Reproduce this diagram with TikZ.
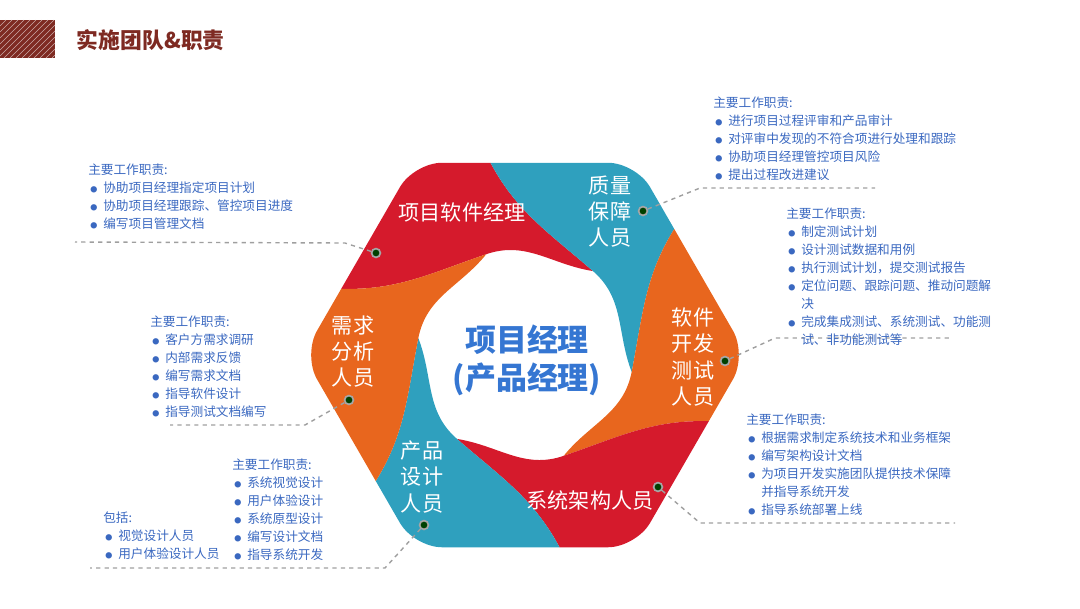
\documentclass[tikz,border=0pt]{standalone}
\usepackage{fontspec}
\setmainfont{Noto Sans CJK SC}
\usetikzlibrary{calc,positioning}
\definecolor{bred}{HTML}{D51A2C}
\definecolor{bteal}{HTML}{2FA0BE}
\definecolor{borange}{HTML}{E8661E}
\definecolor{dutyblue}{HTML}{3A68C0}
\definecolor{corecol}{HTML}{3576D2}
\definecolor{titlecol}{HTML}{7E2A22}
\newcommand{\itm}{\makebox[0.375cm][l]{\hspace{0.05cm}{\tiny●}}}
\newcommand{\cnt}{\hspace*{0.375cm}}
\tikzset{
  duty/.style={anchor=north west, align=left, inner sep=0pt, text=dutyblue,
    font=\fontsize{9}{12.8}\selectfont},
  role/.style={text=white, align=center, font=\fontsize{15}{18.5}\selectfont},
  pin/.style={circle, draw=gray!70, line width=1.2pt, fill=black!75!green, minimum size=0.22cm, inner sep=0pt},
  lead/.style={draw=gray!75, dashed, line width=1pt}
}
\begin{document}
\begin{tikzpicture}[x=0.025cm,y=-0.025cm]
\useasboundingbox (0,0) rectangle (1080,608);
% title bar
\fill[titlecol] (0,20) rectangle (55,58);
\foreach \k in {0,6,...,90}
  \draw[white!60!titlecol, line width=0.3pt] ({max(0,\k-38)},{20+min(\k,38)}) -- ({min(55,\k)},{20+max(0,\k-55)});
\node[text=titlecol, font=\fontsize{15.5}{18}\bfseries, anchor=west] (title) at (72,40) {实施团队\&职责};
% pinwheel
\begin{scope}[shift={(525,355)}]
\begin{scope}[y=0.025cm]
  \clip[rounded corners=0.7cm] (0:222) -- (60:222) -- (120:222) -- (180:222) -- (240:222) -- (300:222) -- cycle;
  \foreach \a/\col in {51/bred, -9/bteal, -69/borange, -129/bred, 171/bteal, 111/borange}
    \fill[\col] (\a:108) to[out={\a+88},in={\a-115}] ({\a+50}:205) -- ({\a+55}:300)
      -- ({\a+115}:300) -- ({\a+110}:205) to[out={\a-55},in={\a+148}] ({\a+60}:108)
      to[out={\a-32},in={\a+120}] (\a:108) -- cycle;
\end{scope}
\end{scope}
% role labels
\node[role] (pm) at (462,212) {项目软件经理};
\node[role] (qa) at (610,212) {质量\\保障\\人员};
\node[role] (test) at (693,357) {软件\\开发\\测试\\人员};
\node[role] (arch) at (590,500) {系统架构人员};
\node[role] (design) at (422,477) {产品\\设计\\人员};
\node[role] (req) at (353,352) {需求\\分析\\人员};
\node[text=corecol, align=center, font=\fontsize{22}{27}\bfseries] (core) at (527,360) {项目经理\\(产品经理)};
% pins
\node[pin] (ppm) at (376,253) {};
\node[pin] (pqa) at (643,211) {};
\node[pin] (ptest) at (725,361) {};
\node[pin] (parch) at (658,487) {};
\node[pin] (preq) at (349,400) {};
\node[pin] (pdesign) at (424,525) {};
% leaders
\coordinate (lpm1) at (345,243); \coordinate (lpm2) at (75,242);
\coordinate (lqa1) at (700,188); \coordinate (lqa2) at (875,188);
\coordinate (ltest1) at (775,338); \coordinate (ltest2) at (950,338);
\coordinate (larch1) at (700,523); \coordinate (larch2) at (955,523);
\coordinate (lreq1) at (305,425); \coordinate (lreq2) at (170,425);
\coordinate (ldesign1) at (385,568); \coordinate (ldesign2) at (90,568);
\draw[lead] (ppm) -- (lpm1) -- (lpm2);
\draw[lead] (pqa) -- (lqa1) -- (lqa2);
\draw[lead] (ptest) -- (ltest1) -- (ltest2);
\draw[lead] (parch) -- (larch1) -- (larch2);
\draw[lead] (preq) -- (lreq1) -- (lreq2);
\draw[lead] (pdesign) -- (ldesign1) -- (ldesign2);
% duty lists
\node[duty] (dpm) at (88,164) {主要工作职责:\\\itm 协助项目经理指定项目计划\\\itm 协助项目经理跟踪、管控项目进度\\\itm 编写项目管理文档};
\node[duty] (dqa) at (713,97) {主要工作职责:\\\itm 进行项目过程评审和产品审计\\\itm 对评审中发现的不符合项进行处理和跟踪\\\itm 协助项目经理管控项目风险\\\itm 提出过程改进建议};
\node[duty] (dtest) at (786,208) {主要工作职责:\\\itm 制定测试计划\\\itm 设计测试数据和用例\\\itm 执行测试计划，提交测试报告\\\itm 定位问题、跟踪问题、推动问题解\\\cnt 决\\\itm 完成集成测试、系统测试、功能测\\\cnt 试、非功能测试等};
\node[duty] (dreq) at (150,316) {主要工作职责:\\\itm 客户方需求调研\\\itm 内部需求反馈\\\itm 编写需求文档\\\itm 指导软件设计\\\itm 指导测试文档编写};
\node[duty] (darch) at (746,414) {主要工作职责:\\\itm 根据需求制定系统技术和业务框架\\\itm 编写架构设计文档\\\itm 为项目开发实施团队提供技术保障\\\cnt 并指导系统开发\\\itm 指导系统部署上线};
\node[duty] (ddesign) at (232,459) {主要工作职责:\\\itm 系统视觉设计\\\itm 用户体验设计\\\itm 系统原型设计\\\itm 编写设计文档\\\itm 指导系统开发};
\node[duty] (dteam) at (103,512) {包括:\\\itm 视觉设计人员\\\itm 用户体验设计人员};
\end{tikzpicture}
\end{document}
